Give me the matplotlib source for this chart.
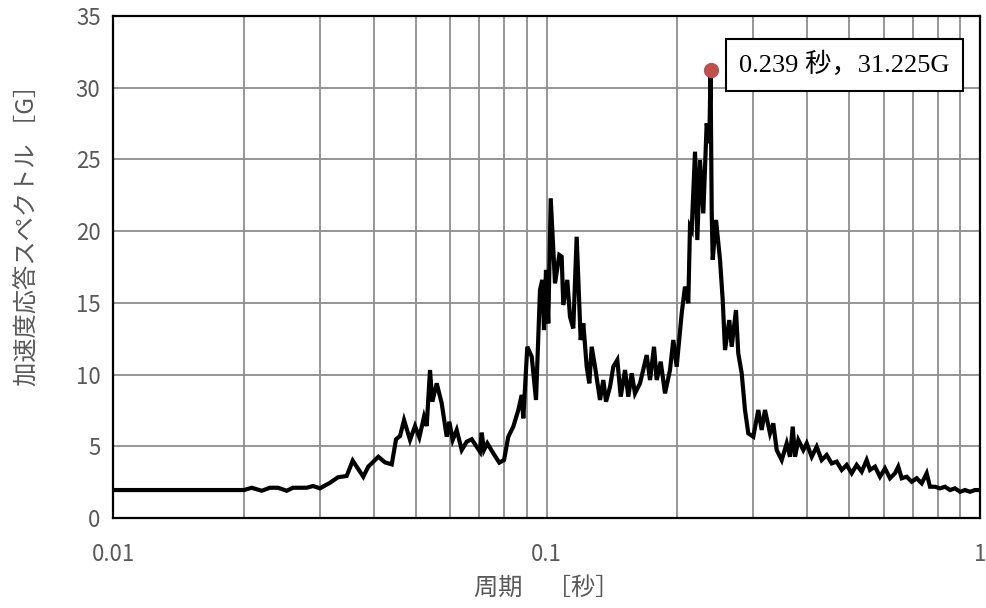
import matplotlib
matplotlib.use("Agg")
import matplotlib.pyplot as plt
from matplotlib.ticker import FixedLocator, LogLocator, NullFormatter, FixedFormatter

plt.rcParams['font.family'] = ['Noto Sans CJK JP', 'DejaVu Sans']

period = [
    0.0100, 0.02005, 0.02089, 0.02203, 0.02302, 0.02402, 0.02516, 0.02601, 0.02798, 0.02893,
    0.03002, 0.03167, 0.03304, 0.03460, 0.03572, 0.03779, 0.03880, 0.04093, 0.04241, 0.04395,
    0.04497, 0.04594, 0.04692, 0.04844, 0.04974, 0.05089, 0.05217, 0.05292, 0.05386, 0.05453,
    0.05581, 0.05731, 0.05886, 0.05968, 0.06076, 0.06206, 0.06374, 0.06545, 0.06722, 0.06902,
    0.07024, 0.07088, 0.07175, 0.07302, 0.07539, 0.07783, 0.07980, 0.08164, 0.08383, 0.08610,
    0.08766, 0.08841, 0.09030, 0.09245, 0.09458, 0.09661, 0.09779, 0.09867, 0.09973, 0.10095,
    0.10226, 0.10462, 0.10703, 0.10839, 0.10932, 0.11166, 0.11329, 0.11529, 0.11738, 0.11990,
    0.12160, 0.12380, 0.12553, 0.12713, 0.12940, 0.13287, 0.13521, 0.13719, 0.14013, 0.14261,
    0.14566, 0.14833, 0.15175, 0.15443, 0.15723, 0.16001, 0.16433, 0.17026, 0.17330, 0.17701,
    0.17956, 0.18341, 0.18767, 0.19270, 0.19610, 0.19966, 0.20506, 0.20868, 0.21237, 0.21429,
    0.21622, 0.22009, 0.22279, 0.22599, 0.22999, 0.23416, 0.23742, 0.23900, 0.24051, 0.24179,
    0.24606, 0.25135, 0.25497, 0.25810, 0.26405, 0.26741, 0.27358, 0.27694, 0.28203, 0.28701,
    0.29208, 0.29992, 0.30803, 0.31361, 0.31915, 0.32779, 0.33358, 0.33963, 0.34883, 0.35819,
    0.36452, 0.36985, 0.37439, 0.38100, 0.39121, 0.39829, 0.40907, 0.42004, 0.43132, 0.44301,
    0.45490, 0.46710, 0.47973, 0.49261, 0.50582, 0.51939, 0.53345, 0.54774, 0.55742, 0.57252,
    0.58789, 0.60366, 0.61999, 0.63662, 0.64786, 0.65975, 0.67746, 0.69563, 0.71450, 0.73367,
    0.75336, 0.76683, 0.78740, 0.80853, 0.83044, 0.85272, 0.87560, 0.89932, 0.92345, 0.94823,
    0.97387, 1.0000,
]

accel = [
    1.95, 1.95, 2.11, 1.90, 2.11, 2.11, 1.90, 2.11, 2.11, 2.23,
    2.07, 2.46, 2.84, 2.93, 4.00, 2.88, 3.58, 4.27, 3.88, 3.74,
    5.49, 5.72, 6.83, 5.44, 6.41, 5.62, 7.06, 6.41, 10.32, 8.11,
    9.39, 8.00, 5.67, 6.71, 5.44, 6.14, 4.74, 5.32, 5.49, 4.97,
    4.62, 5.95, 4.74, 5.21, 4.51, 3.86, 4.04, 5.67, 6.37, 7.53,
    8.58, 6.95, 11.94, 11.25, 8.23, 15.90, 16.60, 13.10, 17.30, 13.57,
    22.29, 16.36, 18.34, 18.22, 14.85, 16.60, 14.03, 13.22, 19.61, 12.41,
    13.57, 10.55, 9.39, 11.94, 10.55, 8.23, 9.62, 8.11, 9.15, 10.55,
    11.02, 8.46, 10.32, 8.46, 10.09, 8.69, 9.39, 11.36, 9.62, 11.94,
    9.62, 10.90, 8.69, 10.32, 12.41, 10.55, 14.27, 16.13, 14.97, 20.31,
    20.08, 25.54, 19.38, 24.96, 21.24, 27.52, 26.13, 31.225, 21.24, 18.00,
    20.78, 18.00, 15.20, 11.71, 13.80, 11.94, 14.50, 11.48, 10.09, 7.53,
    5.90, 5.67, 7.53, 6.14, 7.53, 5.90, 6.60, 4.74, 4.04, 5.21,
    4.27, 6.37, 4.27, 5.44, 4.74, 5.21, 4.27, 4.97, 4.04, 4.39,
    3.81, 3.93, 3.35, 3.70, 3.12, 3.70, 3.23, 4.04, 3.35, 3.58,
    2.88, 3.46, 2.77, 3.12, 3.58, 2.77, 2.88, 2.53, 2.77, 2.42,
    3.12, 2.18, 2.18, 2.07, 2.18, 1.95, 2.07, 1.83, 1.95, 1.83,
    1.95, 1.95,
]

peak_period = 0.239
peak_accel = 31.225
peak_label = "0.239 秒，31.225G"

x_ticks = [0.01, 0.1, 1]
x_tick_labels = ["0.01", "0.1", "1"]
y_ticks = [0, 5, 10, 15, 20, 25, 30, 35]

xlabel = "周期　［秒］"
ylabel = "加速度応答スペクトル ［G］"

fig = plt.figure(figsize=(9.87, 6.08), dpi=100)
ax = fig.add_axes([0.1145, 0.148, 0.8784, 0.8257])

ax.set_xscale('log')
ax.set_xlim(0.01, 1)
ax.set_ylim(0, 35)

grid_color = '#8e8e8e'
ax.xaxis.set_major_locator(FixedLocator(x_ticks))
ax.xaxis.set_major_formatter(FixedFormatter(x_tick_labels))
ax.xaxis.set_minor_locator(LogLocator(base=10, subs=range(2, 10)))
ax.xaxis.set_minor_formatter(NullFormatter())
ax.yaxis.set_major_locator(FixedLocator(y_ticks))
ax.grid(True, which='major', color=grid_color, linewidth=1.3)
ax.grid(True, which='minor', axis='x', color=grid_color, linewidth=1.3)
ax.set_axisbelow(True)

ax.tick_params(which='both', length=0, colors='#595959', labelsize=16)
ax.tick_params(axis='x', pad=18)
ax.tick_params(axis='y', pad=9)

for sp in ax.spines.values():
    sp.set_linewidth(1.6)
    sp.set_color('black')

ax.plot(period, accel, color='black', linewidth=3, solid_joinstyle='miter', zorder=3)
ax.plot([peak_period], [peak_accel], 'o', color='#c0504d', markersize=10, zorder=4)

ax.text(0.844, 0.903, peak_label, transform=ax.transAxes, ha='center', va='center',
        fontsize=19, family=['Liberation Serif', 'Noto Sans CJK JP'], color='black',
        bbox=dict(boxstyle='square,pad=0.5', facecolor='white', edgecolor='black', linewidth=1.5),
        zorder=5)

ax.set_xlabel(xlabel, fontsize=17.5, color='#595959', labelpad=6)
ax.set_ylabel(ylabel, fontsize=17.5, color='#595959')
ax.yaxis.set_label_coords(-0.085, 0.575)

fig.savefig('out.png', dpi=100)
